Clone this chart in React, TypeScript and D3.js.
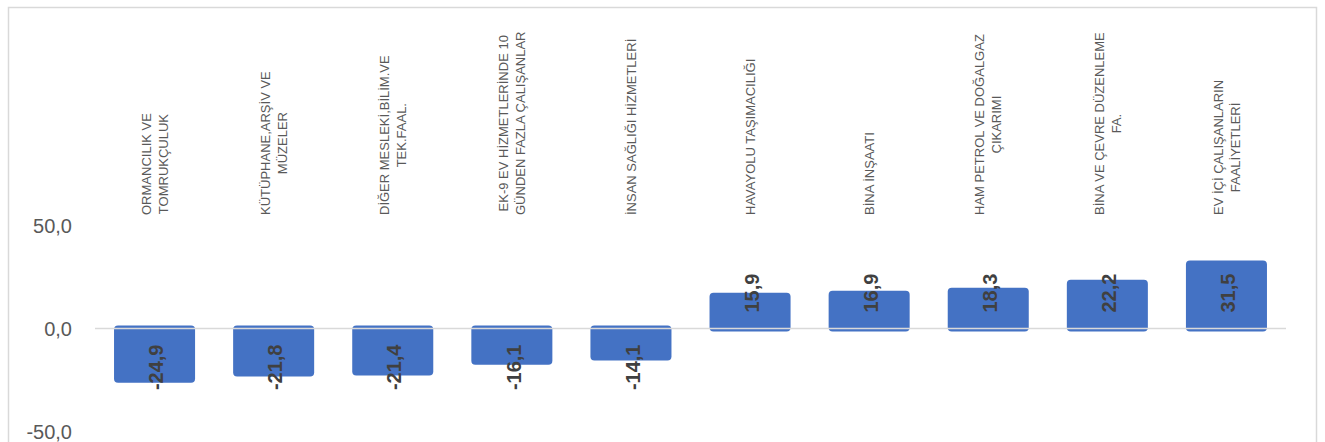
import { useEffect, useRef } from 'react'
import * as d3 from 'd3'

const categories: string[][] = [
  ['ORMANCILIK VE', 'TOMRUKÇULUK'],
  ['KÜTÜPHANE,ARŞİV VE', 'MÜZELER'],
  ['DİĞER MESLEKİ,BİLİM.VE', 'TEK.FAAL.'],
  ['EK-9 EV HİZMETLERİNDE 10', 'GÜNDEN FAZLA ÇALIŞANLAR'],
  ['İNSAN SAĞLIĞI HİZMETLERİ'],
  ['HAVAYOLU TAŞIMACILIĞI'],
  ['BİNA İNŞAATI'],
  ['HAM PETROL VE DOĞALGAZ', 'ÇIKARIMI'],
  ['BİNA VE ÇEVRE DÜZENLEME', 'FA.'],
  ['EV İÇİ ÇALIŞANLARIN', 'FAALİYETLERİ'],
]

const values = [-24.9, -21.8, -21.4, -16.1, -14.1, 15.9, 16.9, 18.3, 22.2, 31.5]

const yTicks = [-50, 0, 50]

const fmt = (v: number) => v.toFixed(1).replace('.', ',')

export default function App() {
  const svgRef = useRef<SVGSVGElement>(null)

  useEffect(() => {
    if (!svgRef.current) return
    const svg = d3.select(svgRef.current)
    svg.selectAll('*').remove()

    const width = 1325
    const height = 442
    const plot = { left: 95, right: 1286 }
    const labelBase = 215

    // chart frame
    svg.append('rect')
      .attr('x', 8.5)
      .attr('y', 7.5)
      .attr('width', 1308)
      .attr('height', 500)
      .attr('fill', '#fff')
      .attr('stroke', '#d9d9d9')
      .attr('stroke-width', 1.5)

    const x = d3.scaleBand<number>()
      .domain(d3.range(values.length))
      .range([plot.left, plot.right])
      .paddingInner(0.37)
      .paddingOuter(0.185)

    const y = d3.scaleLinear()
      .domain([-50, 50])
      .range([431.5, 225.5])

    const y0 = y(0)

    // y tick labels
    svg.append('g')
      .selectAll('text')
      .data(yTicks)
      .join('text')
      .attr('x', 72)
      .attr('y', d => y(d))
      .attr('dy', '0.36em')
      .attr('text-anchor', 'end')
      .style('font-family', '"Liberation Sans", Arial, sans-serif')
      .style('font-size', '20px')
      .style('fill', '#595959')
      .text(d => fmt(d))

    // bars (with a thin outline of the same colour)
    const pad = 3
    svg.append('g')
      .selectAll('rect')
      .data(values)
      .join('rect')
      .attr('x', (_, i) => x(i)! - pad)
      .attr('width', x.bandwidth() + pad * 2)
      .attr('y', d => Math.min(y(d), y0) - pad)
      .attr('height', d => Math.abs(y(d) - y0) + pad * 2)
      .attr('rx', 4)
      .attr('fill', '#4472c4')

    // zero line
    svg.append('line')
      .attr('x1', plot.left)
      .attr('x2', plot.right)
      .attr('y1', y0)
      .attr('y2', y0)
      .attr('stroke', '#d9d9d9')
      .attr('stroke-width', 1.5)

    // value labels
    svg.append('g')
      .selectAll('text')
      .data(values)
      .join('text')
      .attr('transform', (d, i) => {
        const cx = x(i)! + x.bandwidth() / 2 + 1.5
        const cy = d >= 0 ? y0 - 16 : y0 + 16
        return `translate(${cx},${cy}) rotate(-90)`
      })
      .attr('dy', '0.36em')
      .attr('text-anchor', d => (d >= 0 ? 'start' : 'end'))
      .style('font-family', '"Liberation Sans", Arial, sans-serif')
      .style('font-size', '20px')
      .style('font-weight', 'bold')
      .style('fill', '#404040')
      .text(d => fmt(d))

    // category labels, rotated, multi-line, bottom aligned
    const lineStep = 17
    const cat = svg.append('g')
      .selectAll('text')
      .data(categories)
      .join('text')
      .attr('text-anchor', 'middle')
      .style('font-family', '"Liberation Sans", Arial, sans-serif')
      .style('font-size', '13px')
      .style('fill', '#595959')

    cat.each(function (lines) {
      const t = d3.select(this)
      lines.forEach((line, j) => {
        t.append('tspan')
          .attr('x', 0)
          .attr('y', (j - (lines.length - 1) / 2) * lineStep)
          .attr('dy', '0.36em')
          .text(line)
      })
    })

    cat.attr('transform', function (_, i) {
      const tspans = (this as SVGTextElement).querySelectorAll('tspan')
      let maxW = 0
      tspans.forEach(s => { maxW = Math.max(maxW, (s as SVGTSpanElement).getComputedTextLength()) })
      const cx = x(i)! + x.bandwidth() / 2
      const cy = labelBase - maxW / 2
      return `translate(${cx},${cy}) rotate(-90)`
    })

    svg.attr('width', width).attr('height', height)
  }, [])

  return (
    <div style={{ position: 'absolute', left: 0, top: 0 }}>
      <svg ref={svgRef} width={1325} height={442} style={{ display: 'block' }}></svg>
    </div>
  )
}
